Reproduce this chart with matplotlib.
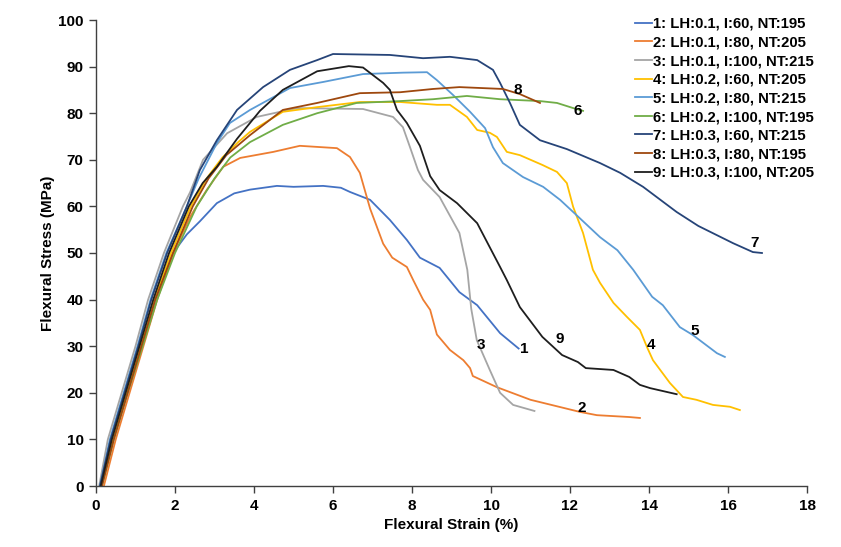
import matplotlib
matplotlib.use("Agg")
import matplotlib.pyplot as plt

plt.rcParams['font.family'] = ['Liberation Sans', 'DejaVu Sans']
plt.rcParams['font.weight'] = 'bold'

# ---- data (strain %, stress MPa) ----
strain_1 = [0.12, 0.42, 0.8, 1.15, 1.5, 1.95, 2.3, 2.63, 3.06, 3.5, 3.9, 4.58, 5.0, 5.75, 6.2, 6.43, 6.94, 7.44, 7.87, 8.2, 8.7, 9.2, 9.65, 10.23, 10.7]
stress_1 = [0.0, 10, 20, 30, 40, 50, 54, 56.8, 60.7, 62.8, 63.6, 64.4, 64.2, 64.4, 64.0, 63.1, 61.4, 57.1, 52.8, 49.0, 46.8, 41.6, 38.8, 32.8, 29.5]

strain_2 = [0.2, 0.5, 0.85, 1.2, 1.55, 1.95, 2.4, 2.8, 3.22, 3.65, 4.49, 5.16, 6.1, 6.43, 6.68, 6.94, 7.27, 7.5, 7.87, 8.03, 8.28, 8.46, 8.63, 8.96, 9.3, 9.47, 9.54, 10.15, 11.0, 12.25, 12.68, 13.5, 13.77]
stress_2 = [0.0, 10, 20, 30, 40, 50, 58, 63.5, 68.5, 70.4, 71.7, 73.0, 72.5, 70.6, 67.2, 59.5, 52.0, 49.0, 47.0, 44.2, 40.0, 37.8, 32.5, 29.2, 27.0, 25.3, 23.6, 21.2, 18.5, 15.9, 15.2, 14.8, 14.6]

strain_3 = [0.08, 0.3, 0.65, 1.0, 1.32, 1.72, 2.2, 2.38, 2.71, 3.32, 4.07, 5.09, 6.76, 7.52, 7.77, 7.95, 8.15, 8.28, 8.7, 9.2, 9.4, 9.5, 9.64, 9.97, 10.23, 10.56, 11.1]
stress_3 = [0.0, 10, 20, 30, 40, 50, 60, 63, 70, 75.7, 79.2, 81.1, 80.9, 79.2, 77.0, 72.7, 67.8, 65.7, 62.0, 54.3, 46.4, 38.0, 31.3, 24.9, 20.0, 17.4, 16.1]

strain_4 = [0.12, 0.42, 0.78, 1.12, 1.48, 1.9, 2.4, 2.8, 3.2, 3.6, 3.9, 4.73, 5.6, 6.68, 7.7, 8.63, 8.96, 9.39, 9.65, 9.97, 10.15, 10.4, 10.73, 11.3, 11.67, 11.92, 12.08, 12.33, 12.58, 12.76, 13.1, 13.44, 13.77, 13.95, 14.1, 14.53, 14.86, 15.2, 15.62, 16.05, 16.3]
stress_4 = [0.0, 10, 20, 30, 40, 50, 60, 66, 70.5, 73.8, 76.0, 80.3, 81.3, 82.4, 82.4, 81.8, 81.8, 79.2, 76.4, 75.8, 74.9, 71.7, 71.0, 68.9, 67.4, 65.0, 59.9, 54.3, 46.4, 43.6, 39.3, 36.3, 33.5, 29.8, 27.0, 22.1, 19.1, 18.5, 17.4, 17.0, 16.3]

strain_5 = [0.1, 0.35, 0.7, 1.05, 1.38, 1.78, 2.3, 2.6, 3.06, 3.39, 3.9, 4.91, 5.75, 6.76, 7.77, 8.38, 8.63, 9.04, 9.47, 9.85, 10.05, 10.3, 10.81, 11.32, 11.75, 12.08, 12.76, 13.2, 13.6, 14.08, 14.35, 14.78, 15.11, 15.72, 15.92]
stress_5 = [0.0, 10, 20, 30, 40, 50, 60, 66, 73.6, 77.9, 80.7, 85.4, 86.7, 88.4, 88.7, 88.8, 87.1, 83.9, 80.3, 76.8, 72.7, 69.3, 66.3, 64.2, 61.4, 58.8, 53.4, 50.6, 46.4, 40.6, 38.8, 34.1, 32.4, 28.5, 27.7]

strain_6 = [0.15, 0.45, 0.8, 1.18, 1.55, 2.0, 2.55, 3.0, 3.4, 3.9, 4.73, 5.6, 6.6, 7.7, 8.53, 9.39, 10.23, 11.24, 11.67, 12.08, 12.33]
stress_6 = [0.0, 10, 20, 30, 40, 50, 60, 66, 70.5, 73.8, 77.5, 80.0, 82.2, 82.6, 83.0, 83.7, 83.0, 82.6, 82.2, 81.1, 80.5]

strain_7 = [0.1, 0.37, 0.72, 1.07, 1.4, 1.8, 2.3, 2.63, 3.06, 3.57, 4.23, 4.91, 5.6, 6.0, 7.44, 8.28, 8.96, 9.65, 10.05, 10.23, 10.48, 10.73, 11.24, 11.92, 12.76, 13.27, 13.85, 14.7, 15.25, 16.13, 16.63, 16.86]
stress_7 = [0.0, 10, 20, 30, 40, 50, 60, 67.8, 74.2, 80.7, 85.6, 89.3, 91.4, 92.7, 92.5, 91.8, 92.1, 91.4, 89.3, 86.5, 82.2, 77.5, 74.2, 72.3, 69.3, 67.2, 64.2, 58.8, 55.8, 52.1, 50.2, 50.0]

strain_8 = [0.15, 0.45, 0.8, 1.15, 1.5, 1.95, 2.45, 2.85, 3.3, 3.9, 4.73, 5.6, 6.68, 7.7, 8.53, 9.2, 10.3, 10.73, 11.24]
stress_8 = [0.0, 10, 20, 30, 40, 50, 60, 66, 71, 75.3, 80.7, 82.2, 84.3, 84.5, 85.2, 85.6, 85.2, 84.1, 82.2]

strain_9 = [0.12, 0.4, 0.75, 1.1, 1.45, 1.85, 2.35, 2.7, 3.06, 3.57, 4.15, 4.73, 5.6, 6.4, 6.76, 7.27, 7.44, 7.62, 7.87, 8.2, 8.46, 8.7, 9.14, 9.65, 10.23, 10.4, 10.73, 11.3, 11.8, 12.2, 12.4, 13.1, 13.5, 13.77, 14.03, 14.7]
stress_9 = [0.0, 10, 20, 30, 40, 50, 60, 65, 68.5, 74.5, 80.5, 85.0, 89.0, 90.1, 89.8, 86.5, 85.0, 80.7, 77.9, 73.0, 66.5, 63.5, 60.7, 56.4, 47.0, 44.2, 38.4, 32.0, 28.1, 26.6, 25.3, 24.9, 23.4, 21.7, 21.0, 19.7]

labels = ["1: LH:0.1, I:60, NT:195", "2: LH:0.1, I:80, NT:205", "3: LH:0.1, I:100, NT:215",
          "4: LH:0.2, I:60, NT:205", "5: LH:0.2, I:80, NT:215", "6: LH:0.2, I:100, NT:195",
          "7: LH:0.3, I:60, NT:215", "8: LH:0.3, I:80, NT:195", "9: LH:0.3, I:100, NT:205"]
colors = ["#4472C4", "#ED7D31", "#A5A5A5", "#FFC000", "#5B9BD5", "#70AD47", "#264478", "#9E480E", "#1E1E1E"]

tag_names = ["1", "2", "3", "4", "5", "6", "7", "8", "9"]
tag_x = [10.85, 12.3, 9.75, 14.05, 15.15, 12.2, 16.66, 10.68, 11.75]
tag_y = [29.3, 16.8, 30.3, 30.3, 33.3, 80.5, 52.2, 85.0, 31.5]

strains = [strain_1, strain_2, strain_3, strain_4, strain_5, strain_6, strain_7, strain_8, strain_9]
stresses = [stress_1, stress_2, stress_3, stress_4, stress_5, stress_6, stress_7, stress_8, stress_9]

fig = plt.figure(figsize=(8.41, 5.47), dpi=100)
ax = fig.add_axes([96/841, 1-486/547, (807-96)/841, (486-20)/547])

for sx, sy, c, lab in zip(strains, stresses, colors, labels):
    ax.plot(sx, sy, color=c, lw=1.3, label=lab)

for t, x, y in zip(tag_names, tag_x, tag_y):
    ax.text(x, y, t, fontsize=11, fontweight='bold', ha='center', va='center', color='black')

ax.set_xlim(0, 18)
ax.set_ylim(0, 100)
ax.set_xticks(range(0, 19, 2))
ax.set_yticks(range(0, 101, 10))
for s in ['top', 'right']:
    ax.spines[s].set_visible(False)
for s in ['left', 'bottom']:
    ax.spines[s].set_color('#404040')
    ax.spines[s].set_linewidth(1.0)
ax.tick_params(direction='out', length=5, width=1.0, color='#404040', labelsize=11, pad=4)
for lbl in ax.get_xticklabels() + ax.get_yticklabels():
    lbl.set_fontweight('bold')

ax.set_xlabel("Flexural Strain (%)", fontsize=11, fontweight='bold', labelpad=4)
ax.set_ylabel("Flexural Stress (MPa)", fontsize=11, fontweight='bold', labelpad=2)

leg = ax.legend(loc='upper left', bbox_to_anchor=(635/841, 1-17/547), bbox_transform=fig.transFigure,
                frameon=False, fontsize=10.7, handlelength=1.15, handletextpad=0.05,
                labelspacing=0.31, borderpad=0, borderaxespad=0)
for t in leg.get_texts():
    t.set_fontweight('bold')

fig.savefig("out.png", dpi=100)
